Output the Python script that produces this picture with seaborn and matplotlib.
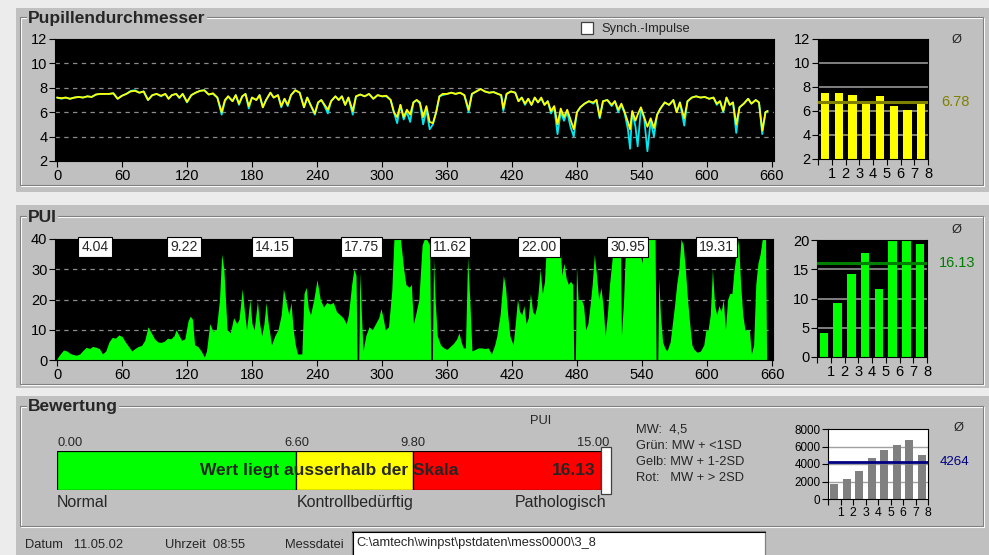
import numpy as np
import matplotlib
matplotlib.use("Agg")
import matplotlib.pyplot as plt
from matplotlib.patches import Rectangle
from matplotlib import font_manager
import seaborn as sns

# ---------------------------------------------------------------- data
# pupil diameter trace (mm) over the 660 s recording, left (yellow) and right (cyan) eye
pupil_t = [
    0, 4, 8, 12, 16, 20, 24, 28, 32, 36,
    40, 44, 48, 52, 56, 60, 64, 68, 72, 76,
    80, 84, 88, 92, 96, 100, 103, 106, 110, 113,
    116, 120, 124, 128, 132, 136, 140, 144, 148, 152,
    155, 158, 162, 165, 168, 171, 174, 177, 180, 184,
    187, 190, 193, 197, 200, 204, 207, 210, 213, 216,
    220, 224, 228, 231, 234, 238, 241, 244, 247, 250,
    253, 257, 260, 263, 266, 269, 273, 276, 280, 284,
    288, 292, 296, 300, 304, 308, 311, 314, 317, 320,
    323, 326, 329, 332, 335, 338, 341, 344, 347, 350,
    353, 356, 360, 364, 368, 372, 376, 380, 383, 387,
    391, 395, 399, 403, 407, 410, 412, 415, 419, 423,
    426, 429, 432, 435, 438, 441, 444, 447, 450, 453,
    456, 459, 462, 465, 468, 471, 474, 477, 480, 483,
    487, 491, 495, 498, 501, 504, 508, 512, 515, 518,
    521, 524, 527, 529, 531, 534, 536, 539, 542, 545,
    548, 551, 554, 557, 561, 565, 569, 572, 575, 579,
    582, 586, 590, 594, 598, 602, 606, 609, 612, 615,
    618, 621, 624, 627, 630, 634, 638, 641, 645, 648,
    651, 654, 656,
]
pupil_left = [
    7.2, 7.15, 7.2, 7.1, 7.2, 7.25, 7.2, 7.3, 7.25, 7.45,
    7.5, 7.5, 7.5, 7.55, 7.1, 7.35, 7.5, 7.7, 7.75, 7.6,
    7.7, 7.0, 7.4, 7.5, 7.35, 7.5, 7.1, 7.4, 7.5, 7.2,
    7.5, 6.85, 7.4, 7.6, 7.75, 7.8, 7.45, 7.55, 7.2, 6.0,
    7.0, 7.3, 6.9, 7.4, 6.7, 7.3, 7.5, 6.5, 7.2, 7.0,
    7.4, 6.4, 7.0, 7.6, 7.2, 7.4, 6.5, 7.1, 6.6, 7.4,
    7.8, 7.6, 6.4, 7.2, 6.6, 5.9, 6.8, 7.0, 6.6, 6.2,
    6.9, 7.3, 7.0, 7.3, 6.6, 7.2, 6.1, 7.3, 7.45, 7.3,
    7.5, 7.1, 7.4, 7.3, 7.35, 7.0, 6.0, 5.6, 6.6, 5.6,
    6.2, 5.8, 6.8, 7.0, 6.8, 5.6, 6.5, 5.2, 5.1, 6.0,
    7.3, 7.5, 7.5, 7.6, 7.5, 7.6, 7.4, 6.2, 7.5, 7.7,
    7.9, 7.7, 7.6, 7.65, 7.5, 7.4, 6.3, 7.5, 7.7, 7.6,
    6.9, 7.2, 6.7, 7.1, 6.6, 7.2, 6.8, 7.2, 6.6, 6.9,
    6.1, 6.5, 5.0, 6.3, 5.6, 6.2, 5.4, 4.6, 6.0, 6.4,
    6.7, 6.9, 6.8, 7.0, 5.6, 6.9, 7.0, 6.6, 6.9, 6.2,
    6.7, 6.0, 5.2, 4.6, 6.1, 5.3, 5.8, 6.4, 5.6, 4.8,
    5.5, 4.7, 5.8, 6.3, 6.8, 6.6, 7.0, 6.0, 6.8, 5.5,
    6.9, 7.2, 7.3, 7.2, 7.25, 7.1, 7.2, 6.7, 6.9, 6.1,
    7.2, 6.6, 6.8, 5.0, 6.4, 6.7, 7.1, 6.7, 7.0, 6.8,
    4.5, 6.0, 6.1,
]
pupil_right = [
    7.2, 7.1, 7.2, 7.1, 7.2, 7.25, 7.2, 7.3, 7.25, 7.45,
    7.5, 7.5, 7.5, 7.55, 7.1, 7.35, 7.5, 7.75, 7.8, 7.6,
    7.7, 7.0, 7.4, 7.5, 7.3, 7.5, 7.1, 7.4, 7.5, 7.15,
    7.5, 6.8, 7.4, 7.6, 7.75, 7.8, 7.45, 7.5, 7.2, 5.8,
    6.9, 7.3, 6.9, 7.4, 6.6, 7.3, 7.5, 6.3, 7.2, 7.0,
    7.4, 6.4, 7.0, 7.6, 7.2, 7.4, 6.4, 7.1, 6.5, 7.4,
    7.8, 7.6, 6.4, 7.2, 6.6, 5.8, 6.8, 7.0, 6.5, 5.9,
    6.9, 7.3, 7.0, 7.3, 6.6, 7.2, 5.8, 7.3, 7.45, 7.3,
    7.5, 7.1, 7.4, 7.3, 7.3, 7.0, 6.0, 5.1, 6.6, 5.4,
    6.0, 5.2, 6.8, 7.0, 6.7, 5.0, 6.2, 4.6, 5.0, 6.0,
    7.3, 7.4, 7.5, 7.6, 7.5, 7.6, 7.4, 6.0, 7.5, 7.7,
    7.9, 7.7, 7.6, 7.65, 7.5, 7.4, 6.1, 7.5, 7.7, 7.6,
    6.9, 7.2, 6.6, 7.1, 6.6, 7.2, 6.8, 7.1, 6.6, 6.9,
    5.9, 6.4, 4.2, 6.0, 5.3, 6.0, 4.8, 4.0, 6.0, 6.4,
    6.7, 6.9, 6.7, 7.0, 5.5, 6.9, 7.0, 6.5, 6.9, 6.0,
    6.6, 5.9, 4.6, 3.0, 6.0, 4.8, 3.2, 6.3, 5.5, 2.8,
    5.3, 4.0, 5.8, 6.3, 6.8, 6.6, 7.0, 6.0, 6.8, 4.9,
    6.9, 7.2, 7.3, 7.2, 7.25, 7.1, 7.2, 6.6, 6.9, 6.0,
    7.2, 6.6, 6.8, 4.3, 6.4, 6.7, 7.1, 6.7, 7.0, 6.8,
    4.2, 6.0, 6.1,
]

# pupillary unrest index trace over the same recording
pui_t = [
    0, 3, 6, 9, 12, 15, 18, 21, 24, 27,
    30, 33, 36, 39, 42, 45, 48, 51, 54, 57,
    60, 63, 66, 69, 72, 75, 78, 81, 84, 87,
    90, 93, 96, 99, 102, 105, 108, 110, 112, 115,
    118, 121, 123, 125, 127, 130, 133, 136, 138, 141,
    144, 147, 150, 152, 154, 157, 160, 163, 166, 168,
    171, 173, 175, 178, 180, 182, 185, 187, 189, 191,
    193, 195, 198, 201, 204, 207, 209, 211, 214, 216,
    218, 220, 222, 226, 228, 230, 232, 234, 237, 240,
    243, 246, 249, 252, 255, 258, 261, 264, 267, 269,
    272, 274, 276, 277, 278.5, 279.5, 281, 282.5, 285, 288,
    291, 294, 297, 299, 301, 303, 306, 309, 311, 314,
    317, 320, 322, 325, 327, 329, 331, 334, 337, 339,
    341, 344, 345, 346.5, 347.5, 349, 351, 354, 357, 360,
    363, 366, 369, 371, 373, 375, 377, 379, 381, 383,
    386, 389, 392, 395, 398, 401, 404, 406, 409, 412,
    414, 416, 418, 421, 423, 425, 427, 429, 431, 433,
    435, 437, 439, 441, 443, 446, 448, 450, 452, 455,
    458, 461, 464, 466, 468, 470, 472, 474, 476, 477,
    478.5, 479.5, 481, 484, 486, 488, 490, 492, 494, 496,
    498, 500, 502, 504, 506, 508, 510, 512, 514, 517,
    520, 521, 523, 525, 528, 532, 535, 538, 540, 542,
    546, 550, 552, 553, 554.5, 555.5, 557, 559, 561, 563,
    566, 568, 570, 572, 574, 576, 578, 580, 582, 584,
    586, 588, 591, 594, 597, 599, 601, 603, 605, 607,
    609, 611, 613, 615, 617, 619, 621, 623, 625, 627,
    629, 631, 633, 635, 637, 639, 641, 643, 645, 647,
    649, 651, 654, 655,
]
pui_v = [
    0.5, 2.0, 3.3, 3.0, 2.2, 1.8, 1.6, 2.0, 3.2, 4.2,
    3.8, 4.5, 4.2, 3.8, 2.0, 3.0, 6.0, 7.5, 7.2, 8.3,
    7.8, 6.0, 4.5, 3.0, 3.8, 4.5, 4.8, 6.5, 11.0, 9.0,
    7.0, 6.0, 5.8, 6.2, 7.2, 7.0, 8.0, 10.0, 8.5, 6.5,
    7.0, 13.0, 14.5, 13.5, 5.0, 4.5, 3.0, 1.0, 3.0, 12.0,
    9.5, 10.0, 20.0, 35.0, 30.0, 10.0, 9.0, 14.0, 12.0, 13.5,
    23.5, 16.0, 10.0, 20.0, 12.0, 10.0, 19.5, 12.0, 8.0, 12.0,
    19.0, 12.0, 5.0, 8.0, 10.0, 15.0, 23.5, 20.0, 15.0, 19.0,
    10.0, 5.0, 2.0, 2.0, 22.0, 24.0, 17.0, 15.0, 20.0, 26.5,
    20.0, 17.5, 19.0, 18.5, 19.0, 16.0, 15.0, 14.0, 12.0, 15.0,
    25.0, 30.0, 28.0, 0.0, 0.0, 29.0, 15.0, 3.0, 8.0, 11.0,
    10.0, 12.0, 14.0, 17.0, 14.0, 10.0, 11.0, 23.0, 40.0, 40.0,
    40.0, 30.0, 25.0, 24.0, 25.0, 12.0, 15.0, 20.0, 38.0, 40.0,
    40.0, 38.0, 0.0, 0.0, 34.0, 20.0, 8.0, 5.0, 4.0, 3.5,
    4.5, 5.5, 7.0, 9.0, 6.0, 4.0, 4.0, 34.0, 20.0, 3.0,
    3.5, 4.0, 4.0, 3.8, 4.0, 2.0, 5.0, 8.0, 15.0, 28.0,
    24.0, 15.0, 8.0, 5.0, 12.0, 20.0, 16.0, 15.0, 18.0, 12.0,
    14.0, 22.0, 16.0, 15.0, 18.0, 30.0, 22.0, 26.0, 40.0, 40.0,
    40.0, 40.0, 40.0, 28.0, 32.0, 27.0, 25.0, 26.0, 25.0, 0.0,
    0.0, 31.0, 20.0, 20.0, 18.0, 10.0, 12.0, 18.0, 25.0, 35.0,
    28.0, 20.0, 24.0, 18.0, 8.0, 15.0, 25.0, 32.0, 40.0, 40.0,
    40.0, 8.0, 20.0, 40.0, 40.0, 40.0, 40.0, 36.0, 32.0, 40.0,
    40.0, 40.0, 40.0, 0.0, 0.0, 27.0, 15.0, 6.0, 4.0, 3.0,
    6.0, 12.0, 18.0, 25.0, 30.0, 40.0, 38.0, 30.0, 20.0, 12.0,
    5.0, 3.5, 2.5, 3.0, 5.0, 10.0, 10.0, 15.0, 30.0, 18.0,
    15.0, 18.0, 16.0, 20.0, 10.0, 20.0, 22.0, 22.0, 30.0, 35.0,
    40.0, 25.0, 15.0, 10.0, 10.0, 10.0, 2.0, 5.0, 25.0, 32.0,
    35.0, 40.0, 40.0, 0.0,
]

segments = ["1", "2", "3", "4", "5", "6", "7", "8"]
segment_pupil = [7.53, 7.53, 7.31, 6.72, 7.22, 6.38, 6.07, 6.75]
pupil_mean = 6.78
segment_pui = [4.04, 9.22, 14.15, 17.75, 11.62, 22.00, 30.95, 19.31]
segment_power = [1710, 2320, 3200, 4720, 5560, 6130, 6700, 4990]
power_mean = 4264

scale_bounds = [0.00, 6.60, 9.80, 15.00]
scale_names = ["Normal", "Kontrollbedürftig", "Pathologisch"]
scale_colors = ["#00ff00", "#ffff00", "#ff0000"]
norm_lines = ["MW:  4,5", "Grün: MW + <1SD", "Gelb: MW + 1-2SD", "Rot:   MW + > 2SD"]

pui_mean = round(float(np.mean(segment_pui)), 2)
pui_value = pui_mean

# ---------------------------------------------------------------- style
sns.set_theme(style="ticks")
REG = "Liberation Sans"
available = {f.name for f in font_manager.fontManager.ttflist}
if "Liberation Sans Narrow" in available:
    NARROW, NS = "Liberation Sans Narrow", 1.0
else:
    NARROW, NS = "Liberation Sans", 0.84
plt.rcParams["font.family"] = [REG, "DejaVu Sans"]

W, H = 989, 555
GRAY = "#c0c0c0"
fig = plt.figure(figsize=(W / 100, H / 100), dpi=100)
fig.patch.set_facecolor("#ececec")


def rect(x0, y0, x1, y1):
    return [x0 / W, 1 - y1 / H, (x1 - x0) / W, (y1 - y0) / H]


# window background, drawn in pixel coordinates
bg = fig.add_axes([0, 0, 1, 1], zorder=0)
bg.set_xlim(0, W)
bg.set_ylim(H, 0)
bg.axis("off")

for x0, y0, x1, y1 in [(16, 8, 989, 192), (16, 205, 989, 388), (16, 396, 989, 555)]:
    bg.add_patch(Rectangle((x0, y0), x1 - x0, y1 - y0, fc=GRAY, ec="none"))


def group_box(x0, y0, x1, y1, title):
    bg.add_patch(Rectangle((x0 + 1, y0 + 1), x1 - x0, y1 - y0, fill=False, ec="white", lw=0.8))
    bg.add_patch(Rectangle((x0, y0), x1 - x0, y1 - y0, fill=False, ec="#808080", lw=0.8))
    bg.text(x0 + 8, y0 + 1, title, fontsize=12.5, fontweight="bold", family=REG,
            ha="left", va="center", bbox=dict(fc=GRAY, ec="none", pad=1.0))


group_box(20, 17, 983, 185, "Pupillendurchmesser")
group_box(20, 216, 983, 384, "PUI")
group_box(20, 406, 983, 526, "Bewertung")


def ui_text(x, y, s, size=11, **kw):
    kw.setdefault("ha", "left")
    kw.setdefault("va", "center")
    kw.setdefault("family", NARROW)
    bg.text(x, y, s, fontsize=size * NS, **kw)


# check box
bg.add_patch(Rectangle((581, 22), 12, 12, fc="white", ec="#404040", lw=0.9))
ui_text(601, 29, "Synch.-Impulse")

# status line
ui_text(25, 545, "Datum   11.05.02")
ui_text(165, 545, "Uhrzeit  08:55")
ui_text(285, 545, "Messdatei")
bg.add_patch(Rectangle((352, 531), 413, 26, fc="white", ec="#808080", lw=0.9))
bg.plot([352, 765], [532, 532], color="black", lw=0.8)
bg.plot([353, 353], [532, 555], color="black", lw=0.8)
ui_text(356, 543, "C:\\amtech\\winpst\\pstdaten\\mess0000\\3_8")

# legend of the rating scale
for i, line in enumerate(norm_lines):
    ui_text(636, 430 + 16 * i, line)


def style(ax, size, face):
    ax.set_facecolor(face)
    ax.tick_params(axis="both", which="both", direction="out", length=4, width=0.8,
                   colors="black", labelsize=size * NS, pad=1.5, labelfontfamily=NARROW,
                   bottom=True, left=True, top=False, right=False)
    for s in ax.spines.values():
        s.set_visible(True)
        s.set_color("black")
        s.set_linewidth(0.8)
    ax.set_xlabel("")
    ax.set_ylabel("")


DASH = (0, (3.5, 3.5))
TRACE_XLIM = (-1.85, 661.85)

# ---------------------------------------------------------------- pupil diameter trace
ax1 = fig.add_axes(rect(55, 39, 774, 161), zorder=2)
ax1.set_ylim(2, 12)
ax1.set_yticks(range(2, 13, 2))
for v in ax1.get_yticks()[1:-1]:
    ax1.axhline(v, color="#8c8c8c", lw=0.9, ls=DASH, zorder=0.5)
sns.lineplot(x=pupil_t, y=pupil_right, color="#00e8f0", linewidth=1.3,
             estimator=None, sort=False, ax=ax1)
sns.lineplot(x=pupil_t, y=pupil_left, color="#ffff00", linewidth=1.3,
             estimator=None, sort=False, ax=ax1)
ax1.set_xlim(*TRACE_XLIM)
ax1.set_xticks(range(0, 661, 60))
style(ax1, 12.5, "black")

# segment means of the pupil diameter
ax2 = fig.add_axes(rect(818, 39, 928, 159), zorder=2)
ax2.set_ylim(2, 12)
ax2.set_yticks(range(2, 13, 2))
for v in ax2.get_yticks()[1:-1]:
    ax2.axhline(v, color="#808080", lw=1.4, zorder=0.5)
sns.barplot(x=segments, y=segment_pupil, color="#ffff00", saturation=1, width=0.6,
            errorbar=None, linewidth=0, ax=ax2, zorder=2)
ax2.axhline(pupil_mean, color="#808000", lw=2.2, zorder=3)
ax2.set_xlim(-0.5, 7.5)
ax2.set_xticks(np.arange(-0.5, 8, 1))
ax2.set_xticklabels([""] + segments)
style(ax2, 12.5, "black")
ax2.text(1.245, pupil_mean, f"{pupil_mean:.2f}", transform=ax2.get_yaxis_transform(),
         color="#808000", ha="center", va="center", fontsize=12.5 * NS, family=NARROW,
         clip_on=False)
ui_text(957, 40, "Ø", size=11, ha="center", family=REG)

# ---------------------------------------------------------------- PUI trace
ax3 = fig.add_axes(rect(55, 239, 773, 360), zorder=2)
ax3.set_ylim(0, 40)
ax3.set_yticks(range(0, 41, 10))
for v in ax3.get_yticks()[1:-1]:
    ax3.axhline(v, color="#8c8c8c", lw=0.9, ls=DASH, zorder=0.5)
ax3.fill_between(pui_t, 0, pui_v, color="#00ff00", lw=0, zorder=2)
ax3.set_xlim(-1.85, 660.9)
ax3.set_xticks(range(0, 661, 60))
style(ax3, 12.5, "black")
SEG_START, SEG_STEP = 35, 82
for k, val in enumerate(segment_pui):
    ax3.text(SEG_START + SEG_STEP * k, 37.4, f"{val:.2f}", ha="center", va="center",
             fontsize=12 * NS, family=NARROW, zorder=5, clip_on=False,
             bbox=dict(boxstyle="square,pad=0.22", fc="white", ec="black", lw=0.8))

# segment values of the PUI
ax4 = fig.add_axes(rect(817, 240, 927, 357), zorder=2)
ax4.set_ylim(0, 20)
ax4.set_yticks(range(0, 21, 5))
for v in ax4.get_yticks()[1:-1]:
    ax4.axhline(v, color="#808080", lw=1.4, zorder=0.5)
sns.barplot(x=segments, y=segment_pui, color="#00ff00", saturation=1, width=0.63,
            errorbar=None, linewidth=0, ax=ax4, zorder=2)
ax4.axhline(pui_mean, color="#008000", lw=2.2, zorder=3)
ax4.set_ylim(0, 20)
ax4.set_xlim(-0.5, 7.5)
ax4.set_xticks(np.arange(-0.5, 8, 1))
ax4.set_xticklabels([""] + segments)
style(ax4, 12.5, "black")
ax4.text(1.27, pui_mean, f"{pui_mean:.2f}", transform=ax4.get_yaxis_transform(),
         color="#008000", ha="center", va="center", fontsize=12.5 * NS, family=NARROW,
         clip_on=False)
ui_text(957, 230, "Ø", size=11, ha="center", family=REG)

# ---------------------------------------------------------------- rating scale
ax5 = fig.add_axes(rect(57, 451, 611, 490), zorder=2)
ax5.set_xlim(0, 15.27)
ax5.set_ylim(0, 1)
ax5.axis("off")
for lo, hi, c in zip(scale_bounds[:-1], scale_bounds[1:], scale_colors):
    ax5.barh(0.5, hi - lo, left=lo, height=1, color=c, edgecolor="black", linewidth=0.9)
ax5.add_patch(Rectangle((scale_bounds[-1], -0.1), 15.27 - scale_bounds[-1], 1.2,
                        fc="white", ec="#404040", lw=0.9, clip_on=False))
tx = ax5.get_xaxis_transform()
for b, ha in zip(scale_bounds, ["left", "center", "center", "right"]):
    xpos = b + (0.22 if ha == "right" else 0.0)
    ax5.text(xpos, 1.2, f"{b:.2f}", transform=tx, ha=ha, va="center",
             fontsize=11 * NS, family=NARROW)
ax5.text(13.34, 1.76, "PUI", transform=tx, ha="center", va="center",
         fontsize=11 * NS, family=NARROW)
for name, x, ha in zip(scale_names, [0.0, scale_bounds[1], 15.14], ["left", "left", "right"]):
    ax5.text(x, -0.33, name, transform=tx, ha=ha, va="center", fontsize=11.5, family=REG)
ax5.text(7.5, 0.5, "Wert liegt ausserhalb der Skala", transform=tx, ha="center",
         va="center", fontsize=12.5, fontweight="bold", family=REG)
ax5.text(14.85, 0.5, f"{pui_value:.2f}", transform=tx, ha="right", va="center",
         fontsize=12.5, fontweight="bold", family=REG)

# ---------------------------------------------------------------- segment power
ax6 = fig.add_axes(rect(828, 429, 928, 499), zorder=2)
ax6.set_ylim(0, 8000)
ax6.set_yticks(range(0, 8001, 2000))
for v in ax6.get_yticks()[1:-1]:
    ax6.axhline(v, color="#a0a0a0", lw=1.0, zorder=0.5)
sns.barplot(x=segments, y=segment_power, color="#808080", saturation=1, width=0.66,
            errorbar=None, linewidth=0, ax=ax6, zorder=2)
ax6.axhline(power_mean, color="#000080", lw=2.0, zorder=3)
ax6.set_ylim(0, 8000)
ax6.set_xlim(-0.5, 7.5)
ax6.set_xticks(np.arange(-0.5, 8, 1))
ax6.set_xticklabels([""] + segments)
style(ax6, 10.5, "white")
ax6.tick_params(axis="y", labelsize=10 * NS)
ax6.text(1.27, power_mean, f"{power_mean}", transform=ax6.get_yaxis_transform(),
         color="#000080", ha="center", va="center", fontsize=11.5 * NS, family=NARROW,
         clip_on=False)
ui_text(959, 428, "Ø", size=11, ha="center", family=REG)

fig.savefig("out.png", dpi=100, facecolor=fig.get_facecolor())
